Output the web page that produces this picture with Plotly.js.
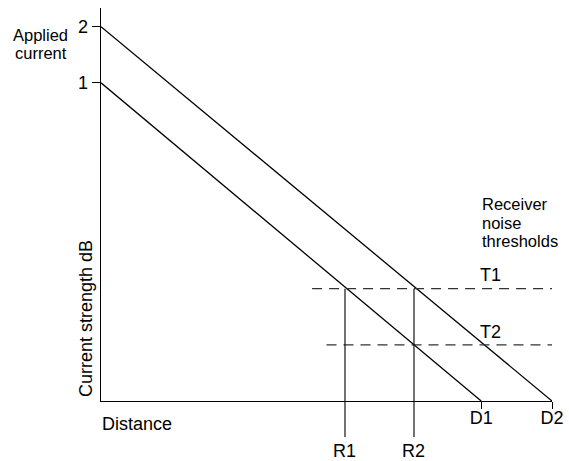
<!DOCTYPE html>
<html>
<head>
<meta charset="utf-8">
<script src="https://cdn.plot.ly/plotly-3.0.1.min.js"></script>
<style>html,body{margin:0;padding:0;background:#fff;}#chart{width:569px;height:461px;}</style>
</head>
<body>
<div id="chart"></div>
<script>
// ---- data ----
const lineLabels = ['1', '2'];            // applied current levels
const startStrength = [8.5, 10];         // strength at distance 0
const endDistance = [8.43, 10];          // D1, D2 (strength reaches 0)
const endLabels = ['D1', 'D2'];
const thresholdNames = ['T1', 'T2'];
const thresholdLevels = [3.0, 1.5];
const thresholdStart = [4.68, 5.0];
const thresholdEnd = [10, 10];
const rangeNames = ['R1', 'R2'];
const rangeDistances = [5.41, 6.94];

const X_MAX = 10, Y_MAX = 10.5;
const L = 101, T = 8, W = 451, H = 393;
const px = p => (p - L) / W;
const py = p => (T + H - p) / H;
const FONT = 'Liberation Sans, Arial, sans-serif';
const FS = 18;
const FS2 = 16.5;

const traces = [];
for (let i = 0; i < lineLabels.length; i++) {
  traces.push({
    x: [0, endDistance[i]], y: [startStrength[i], 0],
    mode: 'lines', line: {color: '#000', width: 1.3},
    cliponaxis: false, hoverinfo: 'skip', showlegend: false
  });
}
for (let i = 0; i < thresholdNames.length; i++) {
  traces.push({
    x: [thresholdStart[i], thresholdEnd[i]], y: [thresholdLevels[i], thresholdLevels[i]],
    mode: 'lines', line: {color: '#333', width: 1.2, dash: '10px,7px'},
    hoverinfo: 'skip', showlegend: false
  });
}

const shapes = [];
for (let i = 0; i < rangeNames.length; i++) {
  shapes.push({
    type: 'line', xref: 'x', yref: 'paper',
    x0: rangeDistances[i], x1: rangeDistances[i],
    y0: py(437), y1: thresholdLevels[0] / Y_MAX,
    line: {color: '#000', width: 1.1}
  });
}

const ann = (text, x, y, opts, fs) => Object.assign({
  text, x, y, xref: 'paper', yref: 'paper', showarrow: false, borderpad: 0,
  font: {family: FONT, size: fs || FS, color: '#000'}
}, opts || {});

const annotations = [
  ann('Applied', px(40), py(35), {xanchor: 'center', yanchor: 'middle'}, FS2),
  ann('current', px(41), py(53.5), {xanchor: 'center', yanchor: 'middle'}, FS2),
  ann('Current strength dB', px(86), py(319), {textangle: -90, xanchor: 'center', yanchor: 'middle'}),
  ann('Distance', px(101), py(424), {xanchor: 'left', yanchor: 'middle'}),
  ann('Receiver', px(481), py(204), {xanchor: 'left', yanchor: 'middle'}, FS2),
  ann('noise', px(481), py(222.5), {xanchor: 'left', yanchor: 'middle'}, FS2),
  ann('thresholds', px(481), py(241), {xanchor: 'left', yanchor: 'middle'}, FS2),
  ann(thresholdNames[0], px(479), py(275), {xanchor: 'left', yanchor: 'middle'}),
  ann(thresholdNames[1], px(479), py(332), {xanchor: 'left', yanchor: 'middle'})
];
for (let i = 0; i < rangeNames.length; i++) {
  annotations.push(ann(rangeNames[i], rangeDistances[i] / X_MAX, py(451), {xanchor: 'center', yanchor: 'middle'}));
}

const layout = {
  width: 569, height: 461,
  margin: {l: L, r: 569 - L - W, t: T, b: 461 - T - H, pad: 0},
  paper_bgcolor: '#fff', plot_bgcolor: '#fff',
  font: {family: FONT, size: FS, color: '#000'},
  xaxis: {
    range: [0, X_MAX], showgrid: false, zeroline: false,
    showline: true, linecolor: '#000', linewidth: 1.3,
    ticks: 'outside', ticklen: 7, tickwidth: 1, tickcolor: '#000',
    ticklabelstandoff: -7,
    tickmode: 'array', tickvals: endDistance, ticktext: endLabels,
    tickfont: {family: FONT, size: FS, color: '#000'}, fixedrange: true
  },
  yaxis: {
    range: [0, Y_MAX], showgrid: false, zeroline: false,
    showline: true, linecolor: '#000', linewidth: 1.3,
    ticks: 'outside', ticklen: 8, tickwidth: 1, tickcolor: '#000',
    tickmode: 'array', tickvals: startStrength, ticktext: lineLabels,
    tickfont: {family: FONT, size: FS, color: '#000'}, fixedrange: true
  },
  shapes, annotations, showlegend: false
};

Plotly.newPlot('chart', traces, layout, {displayModeBar: false, staticPlot: true});
</script>
</body>
</html>
